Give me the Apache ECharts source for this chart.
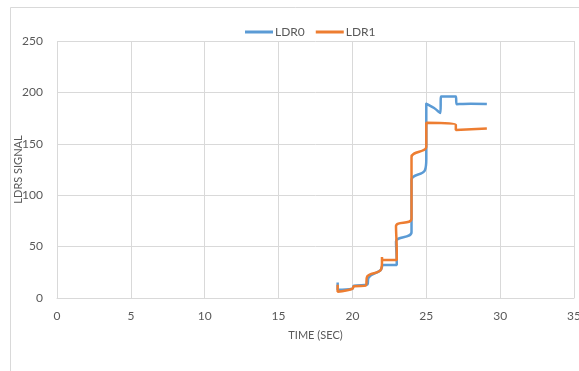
<!DOCTYPE html>
<html>
<head>
<meta charset="utf-8">
<script src="https://cdn.jsdelivr.net/npm/echarts@6/dist/echarts.min.js"></script>
<style>html,body{margin:0;padding:0;background:#fff}#c{width:579px;height:371px}</style>
</head>
<body>
<div id="c"></div>
<script>
var seriesNames = ['LDR0', 'LDR1'];
var ldr0Time  = [19.0, 19.0, 20.0, 20.1, 21.0, 21.1, 21.9, 22.1, 23.0, 23.0, 22.95, 24.0, 24.0, 24.9, 25.0, 25.0, 25.5, 25.95, 26.0, 27.0, 27.05, 28.0, 29.1];
var ldr0Value = [15, 8, 9, 12, 13, 20, 27, 32, 32, 35, 55, 64, 115, 124, 135, 189, 185, 180, 196, 196, 188.5, 189, 188.7];
var ldr1Time  = [19.0, 19.0, 20.0, 20.1, 20.9, 21.0, 21.9, 22.0, 22.0, 22.05, 23.0, 23.0, 22.95, 24.0, 24.0, 25.0, 25.0, 27.0, 27.0, 29.1];
var ldr1Value = [13, 6, 9, 11.5, 12, 21, 27, 34, 40, 37, 37, 46, 70, 77, 137, 147, 170.5, 168.5, 163.5, 165];
var xTicks = [0, 5, 10, 15, 20, 25, 30, 35];
var yTicks = [0, 50, 100, 150, 200, 250];

function pairs(t, v) { return t.map(function (x, i) { return [x, v[i]]; }); }

var chart = echarts.init(document.getElementById('c'));
var labelFont = { color: '#595959', fontSize: 12, fontFamily: 'Lato' };
var titleFont = { color: '#595959', fontSize: 11, fontFamily: 'Lato' };
chart.setOption({
  animation: false,
  backgroundColor: '#fff',
  graphic: [{ type: 'rect', shape: { x: 10.5, y: 7.5, width: 620, height: 420 }, style: { fill: 'none', stroke: '#d9d9d9', lineWidth: 1 }, silent: true }],
  legend: {
    data: seriesNames, left: 240, top: 21, itemWidth: 28, itemHeight: 3, itemGap: 11,
    icon: 'rect',
    textStyle: { color: '#595959', fontSize: 12, fontFamily: 'Lato', padding: [0, 0, 0, -3] }
  },
  grid: { left: 57, right: 5, top: 41, bottom: 73, containLabel: false, outerBoundsMode: 'none' },
  xAxis: {
    type: 'value', min: xTicks[0], max: xTicks[xTicks.length - 1], interval: 5,
    name: 'TIME (SEC)', nameLocation: 'middle', nameGap: 32, nameMoveOverlap: false,
    nameTextStyle: titleFont,
    axisLine: { show: true, lineStyle: { color: '#d9d9d9' } },
    axisTick: { show: false },
    axisLabel: Object.assign({ margin: 12 }, labelFont),
    splitLine: { show: true, lineStyle: { color: '#d9d9d9' } }
  },
  yAxis: {
    type: 'value', min: yTicks[0], max: yTicks[yTicks.length - 1], interval: 50,
    name: 'LDRS SIGNAL', nameLocation: 'middle', nameGap: 33, nameMoveOverlap: false,
    nameTextStyle: titleFont,
    axisLine: { show: false },
    axisTick: { show: false },
    axisLabel: Object.assign({ margin: 14 }, labelFont),
    splitLine: { show: true, lineStyle: { color: '#d9d9d9' } }
  },
  series: [
    { name: seriesNames[0], type: 'line', data: pairs(ldr0Time, ldr0Value), showSymbol: false, smooth: 0.4,
      lineStyle: { color: '#5B9BD5', width: 2.5 }, itemStyle: { color: '#5B9BD5' } },
    { name: seriesNames[1], type: 'line', data: pairs(ldr1Time, ldr1Value), showSymbol: false, smooth: 0.4,
      lineStyle: { color: '#ED7D31', width: 2.5 }, itemStyle: { color: '#ED7D31' } }
  ]
});
</script>
</body>
</html>
